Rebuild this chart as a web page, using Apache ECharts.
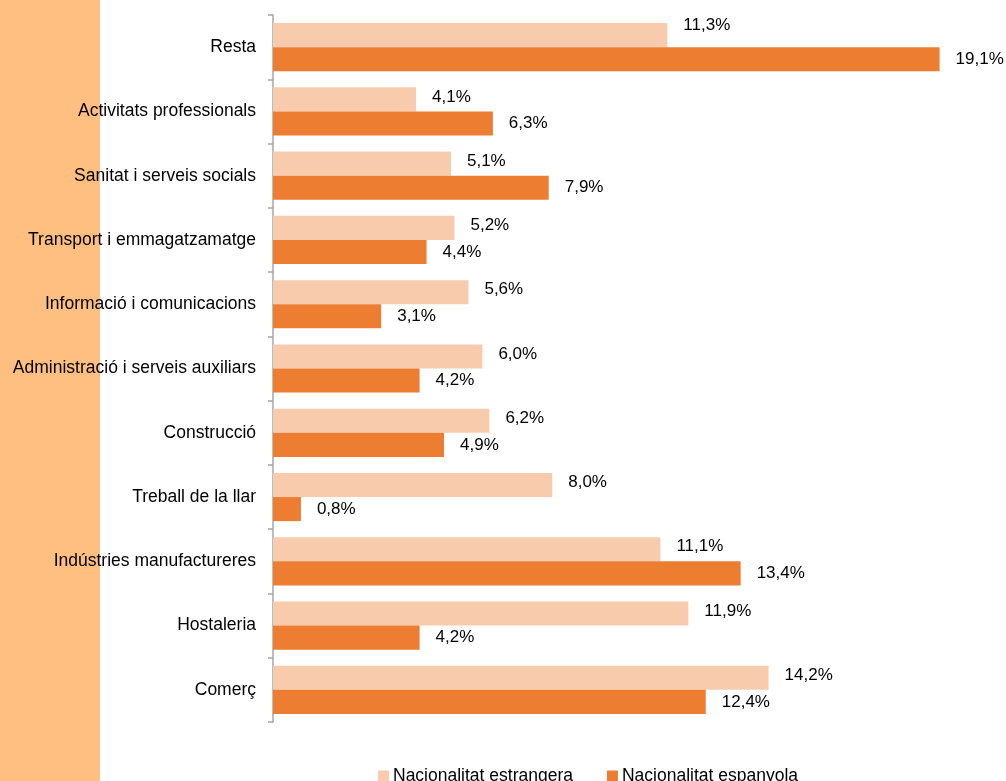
<!DOCTYPE html>
<html><head><meta charset="utf-8">
<script src="https://cdn.jsdelivr.net/npm/echarts@6/dist/echarts.min.js"></script>
<style>html,body{margin:0;padding:0;background:#fff}#c{width:1006px;height:781px}</style>
</head><body><div id="c"></div>
<script>
const categories = ['Resta','Activitats professionals','Sanitat i serveis socials','Transport i emmagatzamatge','Informació i comunicacions','Administració i serveis auxiliars','Construcció','Treball de la llar','Indústries manufactureres','Hostaleria','Comerç'];
const estrangera = [11.3,4.1,5.1,5.2,5.6,6.0,6.2,8.0,11.1,11.9,14.2];
const espanyola = [19.1,6.3,7.9,4.4,3.1,4.2,4.9,0.8,13.4,4.2,12.4];
const seriesNames = ['Nacionalitat estrangera','Nacionalitat espanyola'];

const FONT = "'Liberation Sans Narrow','Arial Narrow','Liberation Sans',Arial,sans-serif";
const fmt = p => p.value.toFixed(1).replace('.', ',') + '%';
const lightData = estrangera.map((v, i) => i === 0 ? {value: v, label: {offset: [0, -10]}} : v);
const chart = echarts.init(document.getElementById('c'));
chart.setOption({
  animation:false,
  graphic:[{type:'rect',shape:{x:0,y:0,width:100,height:781},style:{fill:'#FFBF80'},z:-10}],
  grid:{left:273,top:15,width:698,bottom:59,containLabel:false},
  legend:{top:762,left:373,itemWidth:11,itemHeight:11,itemGap:34,icon:'rect',
    textStyle:{fontFamily:FONT,fontSize:17.5,color:'#000',padding:[0,0,0,-1]}},
  xAxis:{type:'value',min:0,max:20,show:false},
  yAxis:{type:'category',inverse:true,data:categories,
    axisLine:{lineStyle:{color:'#A6A6A6',width:1.5}},
    axisTick:{show:true,length:5,lineStyle:{color:'#A6A6A6',width:1.5}},
    axisLabel:{fontFamily:FONT,fontSize:17.5,color:'#000',margin:17}},
  series:[
    {name:seriesNames[0],type:'bar',data:lightData,barGap:'0%',barCategoryGap:'25%',
     itemStyle:{color:'#F8CBAD'},
     label:{show:true,position:'right',distance:16,offset:[0,-2.5],formatter:fmt,fontFamily:FONT,fontSize:17,color:'#000'}},
    {name:seriesNames[1],type:'bar',data:espanyola,barGap:'0%',barCategoryGap:'25%',
     itemStyle:{color:'#ED7D31'},
     label:{show:true,position:'right',distance:16,offset:[0,0],formatter:fmt,fontFamily:FONT,fontSize:17,color:'#000'}}
  ]
});
</script></body></html>
